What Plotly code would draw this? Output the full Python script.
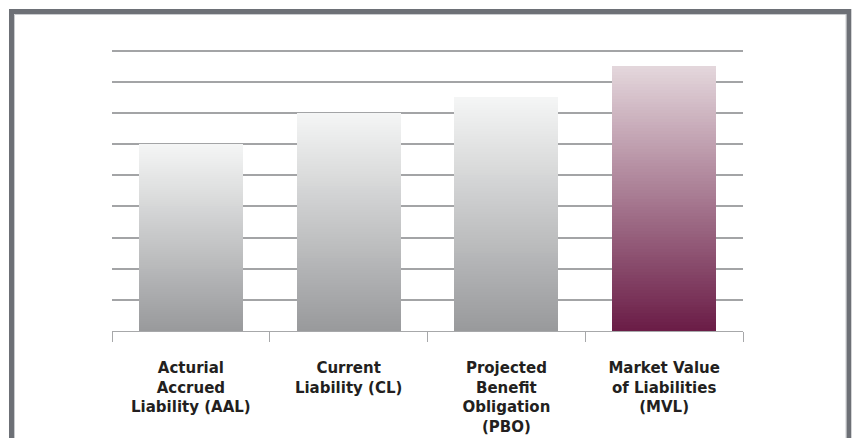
import plotly.graph_objects as go

categories = ["Acturial<br>Accrued<br>Liability (AAL)",
              "Current<br>Liability (CL)",
              "Projected<br>Benefit<br>Obligation<br>(PBO)",
              "Market Value<br>of Liabilities<br>(MVL)"]
values = [6.0, 7.0, 7.5, 8.5]
bottom_colors = [(152, 153, 155), (152, 153, 155), (152, 153, 155), (106, 28, 70)]
top_colors = [(245, 246, 246), (245, 246, 246), (245, 246, 246), (228, 215, 220)]

N = 90  # gradient slices per bar


def mix(c0, c1, t):
    return "rgb(%d,%d,%d)" % tuple(round(a + (b - a) * t) for a, b in zip(c0, c1))


fig = go.Figure()
for k in range(N):
    t = (k + 0.5) / N
    fig.add_trace(go.Bar(
        x=categories,
        y=[v / N for v in values],
        marker=dict(color=[mix(b, tp, t) for b, tp in zip(bottom_colors, top_colors)],
                    line=dict(width=0)),
        hoverinfo="skip",
        showlegend=False,
    ))

W, H = 853, 438
L, R, T, B = 112, 110, 48, 107
pw, ph = W - L - R, H - T - B
unit = 31.15
ytop = ph / unit


def px(x):
    return (x - L) / pw


def py(y):
    return (H - B - y) / ph


shapes = [
    dict(type="path", xref="paper", yref="paper",
         path="M %f %f L %f %f L %f %f L %f %f" % (px(11.5), py(470), px(11.5), py(11.5),
                                                   px(848.8), py(11.5), px(848.8), py(470)),
         line=dict(color="#6d7076", width=5), fillcolor="rgba(0,0,0,0)", layer="above"),
    dict(type="path", xref="paper", yref="paper",
         path="M %f %f L %f %f L %f %f L %f %f" % (px(14.5), py(470), px(14.5), py(14.5),
                                                   px(846), py(14.5), px(846), py(470)),
         line=dict(color="#c9cbce", width=1), fillcolor="rgba(0,0,0,0)", layer="above"),
]

fig.update_layout(
    width=W, height=H,
    margin=dict(l=L, r=R, t=T, b=B, pad=0, autoexpand=False),
    barmode="stack",
    bargap=0.34,
    plot_bgcolor="white",
    paper_bgcolor="white",
    shapes=shapes,
    xaxis=dict(
        type="category",
        automargin=False,
        showgrid=False,
        zeroline=False,
        showline=True, linecolor="#a7a8aa", linewidth=1.3,
        ticks="outside", ticklen=10, tickcolor="#a7a8aa", tickwidth=1.3,
        tickson="boundaries",
        ticklabelstandoff=23,
        tickfont=dict(family="DejaVu Sans", size=15, color="#231f20", weight="bold"),
    ),
    yaxis=dict(
        range=[0, ytop], dtick=1, tick0=0,
        automargin=False,
        showticklabels=False,
        showgrid=True, gridcolor="#a3a4a6", gridwidth=1.5,
        zeroline=False, showline=False, ticks="",
    ),
)

fig.write_html("out.html")
